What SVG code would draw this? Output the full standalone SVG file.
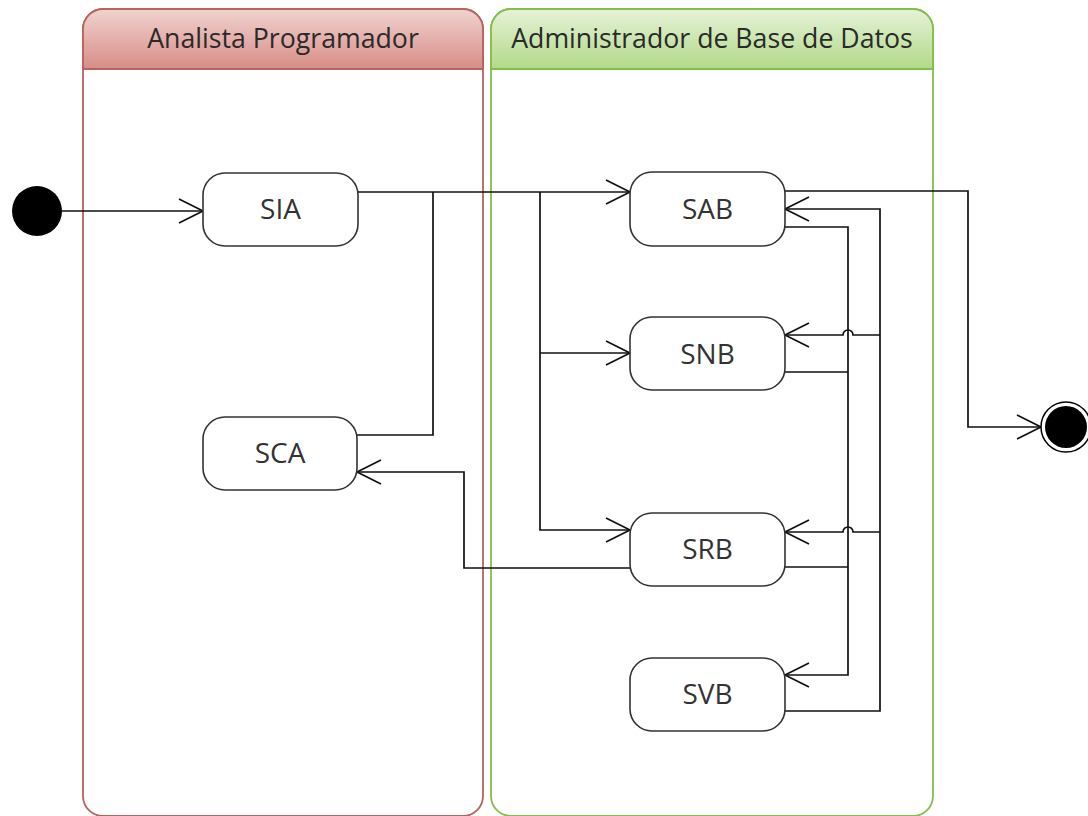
<svg xmlns="http://www.w3.org/2000/svg" width="1088" height="816" viewBox="0 0 1088 816">
<style>
.lane-red{fill:#fff;stroke:#b5645e;stroke-width:1.8}
.lane-green{fill:#fff;stroke:#84bd4a;stroke-width:1.8}
.hdr{font-family:"Open Sans","Liberation Sans",sans-serif;font-size:26.7px;fill:#2a2a2a;text-anchor:middle}
.node rect{fill:#fff;stroke:#333;stroke-width:1.6}
.node text{font-family:"Open Sans","Liberation Sans",sans-serif;font-size:28px;fill:#333;text-anchor:middle}
.conn path{fill:none;stroke:#111;stroke-width:1.7}
</style>
<defs>
<linearGradient id="gRed" x1="0" y1="0" x2="0" y2="1">
<stop offset="0" stop-color="#f0d3d0"/><stop offset="1" stop-color="#d88c86"/>
</linearGradient>
<linearGradient id="gGreen" x1="0" y1="0" x2="0" y2="1">
<stop offset="0" stop-color="#e6f2d8"/><stop offset="1" stop-color="#b2d988"/>
</linearGradient>
<marker id="arr" viewBox="-26 -14 28 28" refX="0" refY="0" markerWidth="28" markerHeight="28" markerUnits="userSpaceOnUse" orient="auto">
<path d="M-24,-12 L0,0 L-24,12" fill="none" stroke="#111" stroke-width="1.7"/>
</marker>
</defs>

<g id="lane-analista">
<path class="lane-red" d="M83,29 A20,20 0 0 1 103,9 H463 A20,20 0 0 1 483,29 V796 A20,20 0 0 1 463,816 H103 A20,20 0 0 1 83,796 Z"/>
<path d="M83,69 V29 A20,20 0 0 1 103,9 H463 A20,20 0 0 1 483,29 V69 Z" fill="url(#gRed)" stroke="#b5645e" stroke-width="1.8"/>
<text class="hdr" x="283" y="48">Analista Programador</text>
</g>

<g id="lane-admin">
<path class="lane-green" d="M491,29 A20,20 0 0 1 511,9 H913 A20,20 0 0 1 933,29 V796 A20,20 0 0 1 913,816 H511 A20,20 0 0 1 491,796 Z"/>
<path d="M491,69 V29 A20,20 0 0 1 511,9 H913 A20,20 0 0 1 933,29 V69 Z" fill="url(#gGreen)" stroke="#84bd4a" stroke-width="1.8"/>
<text class="hdr" x="712" y="48">Administrador de Base de Datos</text>
</g>

<g id="connectors" class="conn">
<path d="M62,211 H203" marker-end="url(#arr)"/>
<path d="M358,192 H630" marker-end="url(#arr)"/>
<path d="M357,435 H433 V192"/>
<path d="M540,192 V530 H630" marker-end="url(#arr)"/>
<path d="M540,353 H630" marker-end="url(#arr)"/>
<path d="M630,568 H464 V472 H357" marker-end="url(#arr)"/>
<path d="M785,191 H968 V427 H1041" marker-end="url(#arr)"/>
<path d="M785,711 H880 V209 H785" marker-end="url(#arr)"/>
<path d="M880,335 H853 A5,5 0 0 0 843,335 H785" marker-end="url(#arr)"/>
<path d="M880,532 H853 A5,5 0 0 0 843,532 H785" marker-end="url(#arr)"/>
<path d="M785,227 H848 V675 H785" marker-end="url(#arr)"/>
<path d="M785,372 H848"/>
<path d="M785,567 H848"/>
</g>

<g id="start">
<circle cx="37" cy="211" r="25" fill="#000"/>
</g>
<g id="end">
<circle cx="1066" cy="427" r="25" fill="#fff" stroke="#000" stroke-width="1.5"/>
<circle cx="1066" cy="427" r="21" fill="#000"/>
</g>

<g id="SIA" class="node"><rect x="203" y="173" width="155" height="73" rx="22"/><text x="280.5" y="219">SIA</text></g>
<g id="SAB" class="node"><rect x="630" y="172" width="155" height="74" rx="22"/><text x="707.5" y="219">SAB</text></g>
<g id="SNB" class="node"><rect x="630" y="317" width="155" height="73" rx="22"/><text x="707.5" y="364">SNB</text></g>
<g id="SCA" class="node"><rect x="203" y="417" width="154" height="73" rx="22"/><text x="280" y="463">SCA</text></g>
<g id="SRB" class="node"><rect x="630" y="513" width="155" height="73" rx="22"/><text x="707.5" y="559">SRB</text></g>
<g id="SVB" class="node"><rect x="630" y="658" width="155" height="73" rx="22"/><text x="707.5" y="704">SVB</text></g>
</svg>
